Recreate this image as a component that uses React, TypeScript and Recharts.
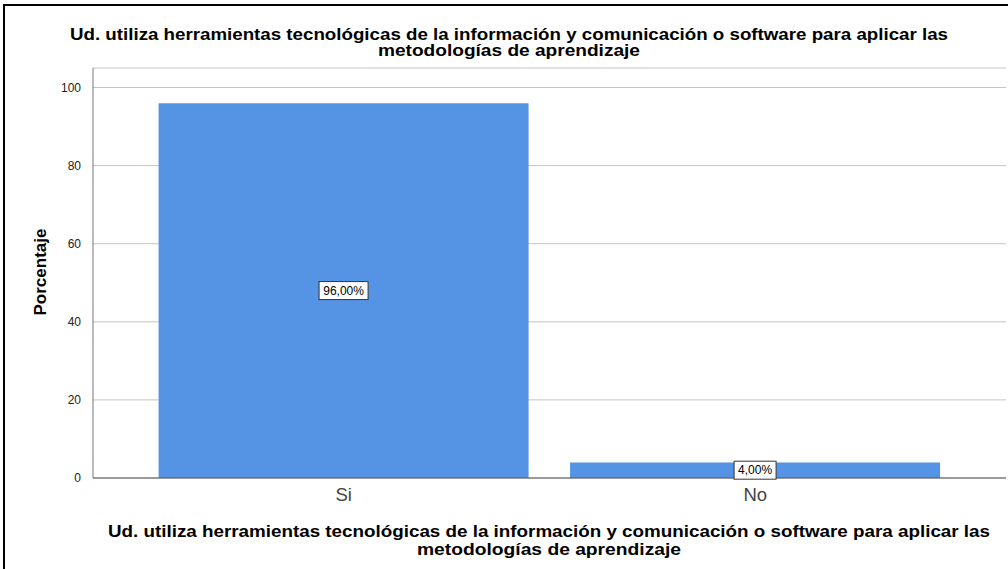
import { BarChart, Bar, XAxis, YAxis, CartesianGrid, LabelList } from 'recharts';

// Datos
const categorias = ['Si', 'No'];
const porcentajes = [96, 4];
const ticksY = [0, 20, 40, 60, 80, 100];

const TITULO_1 = 'Ud. utiliza herramientas tecnológicas de la información y comunicación o software para aplicar las';
const TITULO_2 = 'metodologías de aprendizaje';

const data = categorias.map((c, i) => ({ cat: c, pct: porcentajes[i] }));

const FONT = '"Liberation Sans", Arial, sans-serif';
const BAR = '#5594e4';

function fmt(v: number) {
  return v.toFixed(2).replace('.', ',') + '%';
}

function ValueBox(props: any) {
  const { x, y, width, height, value } = props;
  const txt = fmt(Number(value));
  const w = txt.length * 7 + 7;
  const h = 18;
  const cx = x + width / 2;
  const cy = y + height / 2;
  return (
    <g>
      <rect x={cx - w / 2} y={cy - h / 2} width={w} height={h} fill="#fff" stroke="#333" strokeWidth={1} />
      <text x={cx} y={cy + 4} textAnchor="middle" fontSize={12} fontFamily={FONT} fill="#000">
        {txt}
      </text>
    </g>
  );
}

export default function App() {
  return (
    <div style={{ position: 'absolute', left: 0, top: 0, width: 1008, height: 569, background: '#fff', fontFamily: FONT }}>
      <div style={{ position: 'absolute', left: 3, top: 4, width: 1005, height: 565, borderLeft: '2px solid #000', borderTop: '2px solid #000' }} />
      <BarChart
        width={1008}
        height={569}
        data={data}
        margin={{ top: 68, right: 2, bottom: 61, left: 0 }}
        barCategoryGap="5%"
      >
        <CartesianGrid horizontal vertical={false} stroke="#c4c4c4" />
        <XAxis
          dataKey="cat"
          padding={{ left: 45, right: 45 }}
          tickLine={false}
          axisLine={{ stroke: '#555' }}
          tick={{ fontSize: 18.5, fill: '#444', fontFamily: FONT }}
          tickMargin={4}
        />
        <YAxis
          width={93}
          domain={[0, 105]}
          ticks={ticksY}
          tickLine={false}
          axisLine={{ stroke: '#777' }}
          tick={{ fontSize: 12, fill: '#222', fontFamily: FONT }}
          tickMargin={6}
        />
        <Bar dataKey="pct" fill={BAR} isAnimationActive={false}>
          <LabelList dataKey="pct" content={ValueBox} />
        </Bar>
        <text x={40} y={272} transform="rotate(-90 40 272)" textAnchor="middle" dominantBaseline="central" fontSize={17} fontWeight="bold" fontFamily={FONT} fill="#000">
          Porcentaje
        </text>
        <text x={509} y={40} textAnchor="middle" fontSize={16} fontWeight="bold" fontFamily={FONT} fill="#000">
          <tspan x={509} textLength={878} lengthAdjust="spacingAndGlyphs">{TITULO_1}</tspan>
          <tspan x={509} dy={16} textLength={262} lengthAdjust="spacingAndGlyphs">{TITULO_2}</tspan>
        </text>
        <text x={549} y={537} textAnchor="middle" fontSize={17} fontWeight="bold" fontFamily={FONT} fill="#000">
          <tspan x={549} textLength={882} lengthAdjust="spacingAndGlyphs">{TITULO_1}</tspan>
          <tspan x={549} dy={18} textLength={264} lengthAdjust="spacingAndGlyphs">{TITULO_2}</tspan>
        </text>
      </BarChart>
    </div>
  );
}
